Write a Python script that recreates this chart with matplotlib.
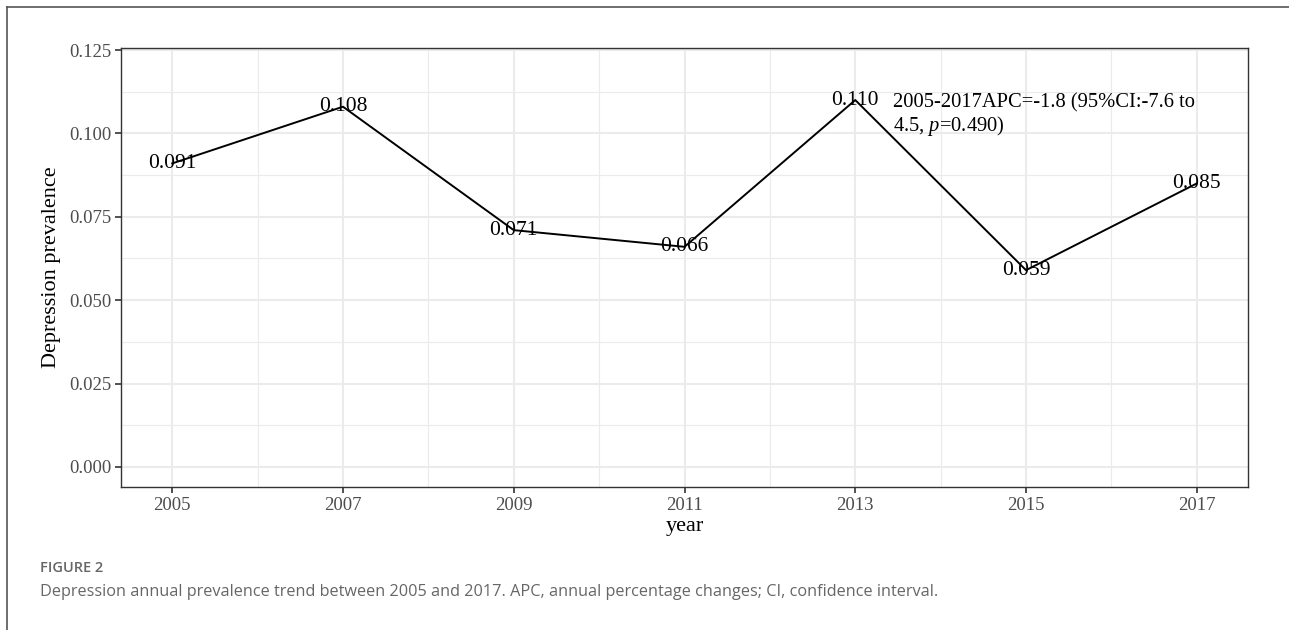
import matplotlib
matplotlib.use("Agg")
import matplotlib.pyplot as plt
from matplotlib.lines import Line2D
from matplotlib.ticker import MultipleLocator

# data
years = [2005, 2007, 2009, 2011, 2013, 2015, 2017]
prevalence = [0.091, 0.108, 0.071, 0.066, 0.110, 0.059, 0.085]
labels = ["0.091", "0.108", "0.071", "0.066", "0.110", "0.059", "0.085"]
y_ticks = [0.000, 0.025, 0.050, 0.075, 0.100, 0.125]
note = "2005-2017APC=-1.8 (95%CI:-7.6 to\n4.5, $p$=0.490)"

plt.rcParams['font.family'] = ['Liberation Serif', 'DejaVu Serif']
plt.rcParams['mathtext.fontset'] = 'custom'
plt.rcParams['mathtext.it'] = 'Liberation Serif:italic'
plt.rcParams['mathtext.rm'] = 'Liberation Serif'

fig = plt.figure(figsize=(12.89, 6.30), dpi=100)
ax = fig.add_axes([121/1289, 1 - 487/630, (1248 - 121)/1289, (487 - 48)/630])

# grid like ggplot theme_bw
ax.set_xticks(years)
ax.set_xticks([2006, 2008, 2010, 2012, 2014, 2016], minor=True)
ax.set_yticks(y_ticks)
ax.yaxis.set_minor_locator(MultipleLocator(0.0125))
ax.grid(which='major', color='#ebebeb', linewidth=1.5)
ax.grid(which='minor', color='#ebebeb', linewidth=0.8)
ax.set_axisbelow(True)

ax.plot(years, prevalence, color='black', linewidth=1.4)
for x, y, t in zip(years, prevalence, labels):
    ax.text(x, y, t, ha='center', va='center', fontsize=15.5, color='black')

ax.text(2013.44, 0.1120, note, ha='left', va='top', fontsize=14.8,
        linespacing=1.1)

ax.set_xlim(2004.4, 2017.6)
ax.set_ylim(-0.006, 0.1256)
ax.yaxis.set_major_formatter(matplotlib.ticker.FormatStrFormatter('%.3f'))

for s in ax.spines.values():
    s.set_color('#333333')
    s.set_linewidth(1.0)
ax.tick_params(which='major', direction='out', length=4, width=1.2,
               color='#333333', labelcolor='#4d4d4d', labelsize=13.5, pad=3)
ax.tick_params(which='minor', length=0)

ax.set_xlabel('year', fontsize=16, color='black', labelpad=2)
ax.set_ylabel('Depression prevalence', fontsize=16, color='black', labelpad=6)

# outer figure frame (left + top)
fig.add_artist(Line2D([7/1289, 7/1289], [0, 1 - 7/630], color='#555555',
                      linewidth=1.2, transform=fig.transFigure))
fig.add_artist(Line2D([7/1289, 1], [1 - 7/630, 1 - 7/630], color='#555555',
                      linewidth=1.2, transform=fig.transFigure))

fig.text(40/1289, 1 - 568/630, 'FIGURE 2', family=['Open Sans', 'DejaVu Sans'],
         fontsize=10.5, fontweight='semibold', color='#666666', va='center', ha='left')
fig.text(40/1289, 1 - 592/630,
         'Depression annual prevalence trend between 2005 and 2017. APC, annual '
         'percentage changes; CI, confidence interval.',
         family=['Open Sans', 'DejaVu Sans'], fontsize=11.7, color='#666666',
         va='center', ha='left')

fig.savefig('out.png', dpi=100)
